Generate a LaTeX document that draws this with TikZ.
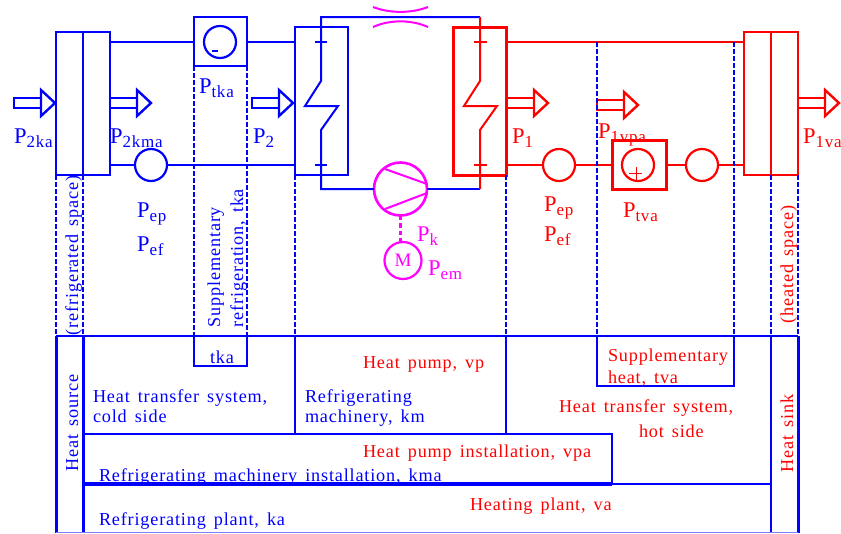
\documentclass[tikz,border=0pt]{standalone}
\usepackage{fontspec}
\usepackage{tikz}
\usetikzlibrary{positioning}
\setmainfont{Liberation Serif}
\newfontfamily\labelfont{Liberation Serif}[LetterSpace=4.5,WordSpace=1.5]
\newcommand{\pw}[1]{\fontsize{22.5}{24}\selectfont P\raisebox{-4pt}{\labelfont\fontsize{17}{20}\selectfont #1}}
\definecolor{drivecol}{RGB}{255,0,255}
\tikzset{
    cold/.style = {color=blue, text=blue},
    hot/.style = {color=red, text=red},
    drive/.style = {color=drivecol, text=drivecol},
    wire/.style = {line width=2pt},
    box/.style = {draw, rectangle, line width=2.8pt, inner sep=0pt, outer sep=0pt},
    ring/.style = {draw, circle, line width=2.2pt, minimum size=32pt, inner sep=0pt, outer sep=0pt},
    guide/.style = {blue, dashed, line width=2.8pt, dash pattern=on 4.5pt off 2.5pt},
    rule/.style = {blue, line width=2.6pt},
    lbl/.style = {anchor=base west, inner sep=0pt, outer sep=0pt, font=\labelfont\fontsize{18.2}{20}\selectfont},
    pwr/.style = {anchor=base west, inner sep=0pt, outer sep=0pt},
    flowarrow/.pic = {
        \draw [line width=2.4pt] (0,-5) rectangle (27,5);
        \draw [line width=2.4pt] (27,-13) -- (41,0) -- (27,13) -- cycle;
    }
}
\begin{document}
\begin{tikzpicture}[x=1pt, y=-1pt]
    \useasboundingbox (0,0) rectangle (841,533);

    \node (coldspace) [box, cold, minimum width=54pt, minimum height=143pt] at (83,103.5) {};
    \node (tkabox) [box, cold, minimum width=53pt, minimum height=49pt] at (220.5,41.5) {};
    \node (tkaring) [ring, cold] at (220,42) {};
    \node (coldpump) [ring, cold] at (151,165) {};
    \node (evap) [box, cold, minimum width=53pt, minimum height=148pt] at (321.5,101) {};
    \node (comp) [ring, drive, minimum size=53pt, line width=2.6pt] at (400.5,189) {};
    \node (motor) [ring, drive, minimum size=37pt] at (403,260.5) {\fontsize{19}{20}\selectfont M};
    \node (cond) [box, hot, line width=3pt, minimum width=53pt, minimum height=148pt] at (479.5,101) {};
    \node (hotpump) [ring, hot] at (559,165) {};
    \node (tvabox) [box, hot, line width=3pt, minimum width=54pt, minimum height=49pt] at (639,164.5) {};
    \node (tvaring) [ring, hot] at (638,165) {};
    \node (tvapump) [ring, hot] at (702,165) {};
    \node (hotspace) [box, hot, minimum width=54pt, minimum height=143pt] at (771,103.5) {};

    \coordinate (topbase) at (56,336);
    \coordinate (loopnw) at (321,17);
    \coordinate (loopne) at (480,17);
    \coordinate (loopsw) at (321,189);
    \coordinate (loopse) at (480,189);
    \coordinate (vpatop) at (597,42);
    \coordinate (tvatop) at (734,42);

    \path [cold, wire]
        (coldspace.north) edge (coldspace.south)
        (coldspace.east |- tkabox) edge (tkabox.west)
        (tkabox.east) edge (evap.west |- tkabox)
        (coldspace.east |- coldpump) edge (coldpump)
        (coldpump) edge (evap.west |- coldpump);
    \path [hot, wire]
        (hotspace.north) edge (hotspace.south)
        (cond.east |- vpatop) edge (hotspace.west |- vpatop)
        (cond.east |- hotpump) edge (hotpump)
        (hotpump) edge (tvabox.west |- hotpump)
        (tvabox.east |- tvapump) edge (tvapump)
        (tvapump) edge (hotspace.west |- tvapump);

    \draw [cold, wire] (comp.west) -- (loopsw) -- (321,130) -- (338,106) -- (305,106) -- (321,81) -- (loopnw) -- (loopne);
    \draw [cold, wire] (comp.east) -- (loopse);
    \draw [cold, wire] (315,42) -- (327,42) (315,165) -- (327,165);
    \draw [hot, wire] (loopne) -- (480,81) -- (464,106) -- (497,106) -- (480,130) -- (loopse);
    \draw [hot, wire] (474,42) -- (487,42) (474,165) -- (487,165);
    \draw [cold, line width=2pt] (212,50.5) -- (218,50.5);
    \draw [hot, line width=1pt] (629,173) -- (642,173) (636,167) -- (636,180);

    \draw [drive, wire] (385,169) -- (427,184) (385,209) -- (427,193);
    \draw [drive, line width=2pt] (373,7) .. controls (390,13.5) and (411,13.5) .. (428,7);
    \draw [drive, line width=2pt] (373,27) .. controls (390,19.5) and (411,19.5) .. (428,27);
    \draw [drive, line width=2.2pt, dashed, dash pattern=on 4.5pt off 3pt] (comp.south) -- (comp.south |- motor.north);

    \pic [cold] at (14,103) {flowarrow};
    \pic [cold] at (110,103) {flowarrow};
    \pic [cold] at (252,103) {flowarrow};
    \pic [hot] at (507,103) {flowarrow};
    \pic [hot] at (597,105) {flowarrow};
    \pic [hot] at (798,103) {flowarrow};

    \path [guide]
        (coldspace.south west) edge (coldspace.south west |- topbase)
        (coldspace.south) edge (coldspace.south |- topbase)
        (tkabox.south west) edge (tkabox.south west |- topbase)
        (tkabox.south east) edge (tkabox.south east |- topbase)
        (evap.south west) edge (evap.south west |- topbase)
        (cond.south east) edge (cond.south east |- topbase)
        (vpatop) edge (vpatop |- topbase)
        (tvatop) edge (tvatop |- topbase)
        (hotspace.south) edge (hotspace.south |- topbase)
        (hotspace.south east) edge (hotspace.south east |- topbase);

    \node (kmatext) [lbl, cold] at (99,481) {Refrigerating machinery installation, kma};

    \draw [rule, line width=2.2pt] (topbase) -- (798,336);
    \draw [rule, line width=3pt] (topbase) -- (56,533) (83,336) -- (83,533) (798,336) -- (798,533);
    \draw [rule] (771,336) -- (771,533);
    \draw [rule] (194,336) -- (194,366) -- (247,366) -- (247,336);
    \draw [rule] (295,336) -- (295,434) (506,336) -- (506,434);
    \draw [rule] (597,336) -- (597,386) -- (734,386) -- (734,336);
    \draw [rule] (83,434) -- (612,434) -- (612,484);
    \draw [rule, line width=3.2pt] (83,484) -- (612,484);
    \draw [rule, line width=2pt] (612,484) -- (771,484);
    \draw [blue!50, line width=1pt] (56,532.5) -- (798,532.5);

    \node (pska) [pwr, cold] at (14,143) {\pw{2ka}};
    \node (pskma) [pwr, cold] at (110,143) {\pw{2kma}};
    \node (ptka) [pwr, cold] at (199,93) {\pw{tka}};
    \node (ptwo) [pwr, cold] at (253,143) {\pw{2}};
    \node (pepc) [pwr, cold] at (137,217) {\pw{ep}};
    \node (pefc) [pwr, cold] at (137,251) {\pw{ef}};
    \node (pk) [pwr, drive] at (417,241) {\pw{k}};
    \node (pem) [pwr, drive] at (428,275) {\pw{em}};
    \node (pone) [pwr, hot] at (512,143) {\pw{1}};
    \node (peph) [pwr, hot] at (544,211) {\pw{ep}};
    \node (pefh) [pwr, hot] at (544,241) {\pw{ef}};
    \node (pvpa) [pwr, hot] at (598,138) {\pw{1vpa}};
    \node (ptva) [pwr, hot] at (623,217) {\pw{tva}};
    \node (pva) [pwr, hot] at (803,143) {\pw{1va}};

    \node (coldtext) [lbl, cold, rotate=90] at (78,335) {(refrigerated space)};
    \node (supptext) [lbl, cold, rotate=90] at (220,327) {Supplementary};
    \node (refrtext) [lbl, cold, rotate=90] at (243,327) {refrigeration, tka};
    \node (srctext) [lbl, cold, rotate=90] at (78,471) {Heat source};
    \node (hottext) [lbl, hot, rotate=90] at (793,323) {(heated space)};
    \node (sinktext) [lbl, hot, rotate=90] at (793,472) {Heat sink};

    \node (tkatext) [lbl, cold] at (210,363) {tka};
    \node (htsc) [lbl, cold] at (93,402) {Heat transfer system,};
    \node (htscb) [lbl, cold] at (93,422) {cold side};
    \node (kmtext) [lbl, cold] at (305,402) {Refrigerating};
    \node (kmtextb) [lbl, cold] at (305,422) {machinery, km};
    \node (vptext) [lbl, hot] at (363,368) {Heat pump, vp};
    \node (vpatext) [lbl, hot] at (363,457) {Heat pump installation, vpa};
    \node (katext) [lbl, cold] at (99,525) {Refrigerating plant, ka};
    \node (vatext) [lbl, hot] at (470,510) {Heating plant, va};
    \node (tvatext) [lbl, hot] at (608,361) {Supplementary};
    \node (tvatextb) [lbl, hot] at (608,383) {heat, tva};
    \node (htsh) [lbl, hot] at (559,412) {Heat transfer system,};
    \node (htshb) [lbl, hot] at (639,437) {hot side};
\end{tikzpicture}
\end{document}
